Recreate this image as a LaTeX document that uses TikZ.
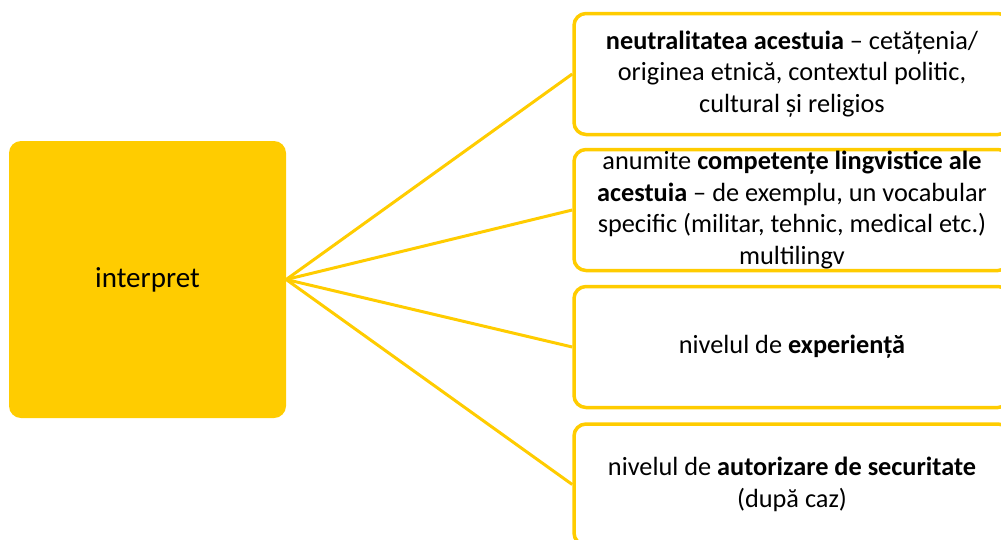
\documentclass[tikz,border=0pt]{standalone}
\usepackage{fontspec}
\setmainfont{Carlito}

\definecolor{ipyellow}{HTML}{FFCC00}

\begin{document}
\begin{tikzpicture}[x=1pt,y=-1pt]
                \tikzset{MainBox/.style={fill=ipyellow, rounded corners=12pt, minimum width=277pt, minimum height=277pt, font=\fontsize{29}{34}\selectfont},
                         ItemBox/.style={draw=ipyellow, line width=3.5pt, rounded corners=12pt, fill=white, minimum width=436pt, minimum height=121pt, inner sep=0pt, align=center, font=\fontsize{26.3}{31.5}\selectfont},
                         Link/.style={draw=ipyellow, line width=3pt}}
                \clip (0,0) rectangle (1001,539);
                \useasboundingbox (0,0) rectangle (1001,539);
                \node[MainBox] (interp) at (147.5,279.5) {interpret};
                \node[ItemBox] (neutral) at (792,74) {\textbf{neutralitatea acestuia} – cetățenia/\\originea etnică, contextul politic,\\cultural și religios};
                \node[ItemBox] (lingv) at (792,210) {anumite \textbf{competențe lingvistice ale}\\\textbf{acestuia} – de exemplu, un vocabular\\specific (militar, tehnic, medical etc.)\\multilingv};
                \node[ItemBox] (exper) at (792,347) {nivelul de \textbf{experiență}};
                \node[ItemBox] (secur) at (792,484.5) {nivelul de \textbf{autorizare de securitate}\\(după caz)};
                \draw[Link] (interp.east) -- (neutral.west);
                \draw[Link] (interp.east) -- (lingv.west);
                \draw[Link] (interp.east) -- (exper.west);
                \draw[Link] (interp.east) -- (secur.west);
            \end{tikzpicture}
\end{document}
